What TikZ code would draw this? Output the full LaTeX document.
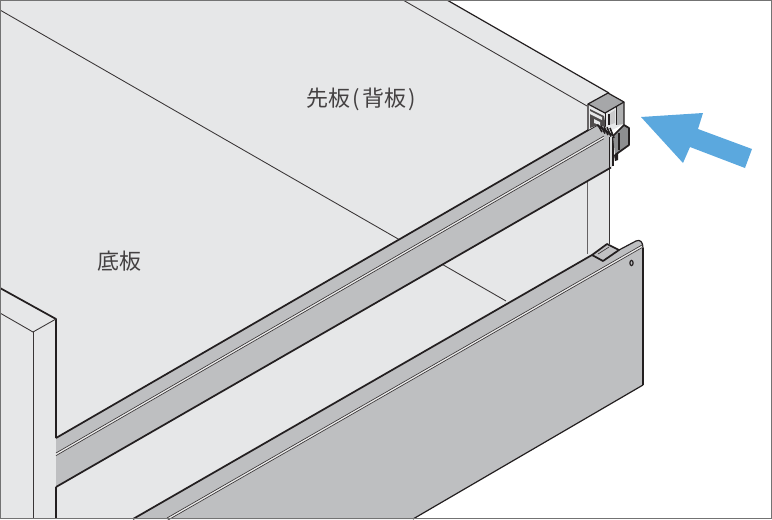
\documentclass[tikz,border=0pt]{standalone}
\usepackage{fontspec}
\newfontfamily\cjkfont{Noto Sans CJK JP}
\definecolor{boardgray}{HTML}{E6E7E8}
\definecolor{railgray}{HTML}{BEBFC1}
\definecolor{clipgray}{HTML}{A6A7A9}
\definecolor{inkgray}{HTML}{231F20}
\definecolor{arrowblue}{HTML}{5BA8DE}
\tikzset{
  edgeline/.style={draw=inkgray,line width=0.9pt,line join=round},
  thinline/.style={draw=inkgray!90,line width=0.65pt},
  heavyline/.style={draw=inkgray,line width=1.3pt,line join=round},
  grooveline/.style={draw=inkgray!90,line width=0.5pt},
  boardlabel/.style={font=\cjkfont\fontsize{16.5}{16.5}\selectfont,text=inkgray!85,inner sep=0pt}
}
\begin{document}
\begin{tikzpicture}[x=0.75pt,y=-0.75pt]
\useasboundingbox (0,0) rectangle (772,519);
\begin{scope}
\clip (0,0) rectangle (772,519);

% Boards
\fill[boardgray] (0,0) -- (447,0) -- (609,93) -- (609,262) -- (413,519) -- (0,519) -- cycle;
\draw[thinline] (0,10) -- (506,301);
\draw[thinline] (403,0) -- (587,106);
\draw[edgeline] (447,0) -- (609,93);

% Post behind the rail
\draw[draw=inkgray!70,line width=0.7pt] (587,170) -- (587,254);
\draw[thinline] (609,160) -- (609,244);

% Left post
\draw[heavyline] (0,288) -- (56,319) -- (56,438);
\draw[heavyline] (56,487) -- (56,519);
\draw[thinline] (0,313) -- (33,332) -- (56,319);
\draw[thinline] (33,332) -- (33,519);

% Front panel
\fill[railgray] (133,519) -- (592,255) -- (607,244) -- (619,250) -- (636,241)
  .. controls (640,239) and (643,242) .. (643,248) -- (643,385) -- (413,519) -- cycle;
\draw[heavyline] (133,519) -- (592,255);
\draw[edgeline] (619,250) -- (636,241) .. controls (640,239) and (643,242) .. (643,248);
\draw[heavyline] (643,248) -- (643,385);
\draw[edgeline] (643,385) -- (413,519);
\fill[white!70!railgray] (167,518) -- (642,245) -- (642,247.6) -- (167,520.6) -- cycle;
\foreach \d in {0,2.6}
  \draw[grooveline] (167,518+\d) -- (642,245+\d);
\fill[clipgray!70] (592,255) -- (607,244) -- (619,250) -- (603,261) -- cycle;
\draw[heavyline] (592,255) -- (603,261) -- (619,250) -- (607,244) -- cycle;
\draw[grooveline] (598,254) -- (609,247);
\draw[draw=inkgray,line width=0.9pt] (631.5,263) circle[x radius=1.6,y radius=2.6];

% Rail
\fill[railgray] (56,438) -- (597,125) -- (611,135) -- (611,167) -- (56,487) -- cycle;
\fill[boardgray!70!railgray] (610,135) -- (613,137) -- (613,166) -- (610,168) -- cycle;
\draw[heavyline] (56,438) -- (597,125);
\draw[heavyline] (56,487) -- (611,167.5);
\draw[edgeline] (609.5,137) -- (609.5,168);
\draw[edgeline] (613,137) -- (613,166);
\fill[white!70!railgray] (56,453) -- (604,136) -- (604,138.6) -- (56,455.6) -- cycle;
\foreach \d in {0,2.6}
  \draw[grooveline] (56,453+\d) -- (604,136+\d);

% Corner bracket, upper cap
\fill[boardgray] (588,104) -- (605,113) -- (624,102) -- (624,124) -- (612,130) -- (597,125) -- (588,130) -- cycle;
\fill[inkgray!80] (590,109) -- (604,116) -- (606,127) -- (598,125) -- (590,128) -- cycle;
\fill[boardgray] (590,111) -- (602,117) -- (602,120) -- (590,114) -- cycle;
\fill[boardgray] (594,119) -- (600,122) -- (600,125) -- (594,123) -- cycle;
\fill[clipgray!60] (609,114) -- (615,110) -- (615,123) -- (609,125) -- cycle;
\fill[clipgray!90] (617,106) -- (624,102) -- (624,124) -- (617,125) -- cycle;
\fill[clipgray] (588,104) -- (608,93) -- (624,102) -- (605,113) -- cycle;
\draw[edgeline] (588,130) -- (588,104) -- (608,93) -- (624,102) -- (624,125);
\draw[edgeline] (588,104) -- (605,113) -- (624,102);
\draw[edgeline] (605.5,113) -- (605.5,126);
\draw[edgeline] (616.5,107) -- (616.5,125);
\draw[edgeline] (609,114) -- (609,125);

% Corner bracket, lower clip
\fill[clipgray!85!black] (613,136) -- (624,125) -- (629,128) -- (629,145) -- (615,155) -- cycle;
\draw[heavyline] (613,136) -- (624,125) -- (629,128) -- (629,145) -- (615,155);
\draw[edgeline] (619,133) -- (619,150);
\fill[inkgray] (614,155) -- (618,153) -- (618,160) -- (615,161) -- cycle;
\foreach \x in {0,3,6,9,12}
  \draw[draw=inkgray,line width=1.2pt] (598+\x,125+0.25*\x) -- (602+\x,132+0.5*\x);
\draw[heavyline] (597,125) -- (612,135);

\end{scope}

% Arrow
\fill[arrowblue] (641,117) -- (703,113) -- (698,129) -- (752,149) -- (745,168) -- (690,147) -- (683,163) -- cycle;

% Labels
\node[boardlabel,anchor=center] (frontlabel) at (361,99) {先板\kern1.5pt(\kern2pt背板\kern1.5pt)};
\node[boardlabel,anchor=center] (bottomlabel) at (119,261) {底板};

% Frame
\draw[draw=black!55,line width=1.2pt] (0.6,0.6) rectangle (771.4,518.4);
\end{tikzpicture}
\end{document}
